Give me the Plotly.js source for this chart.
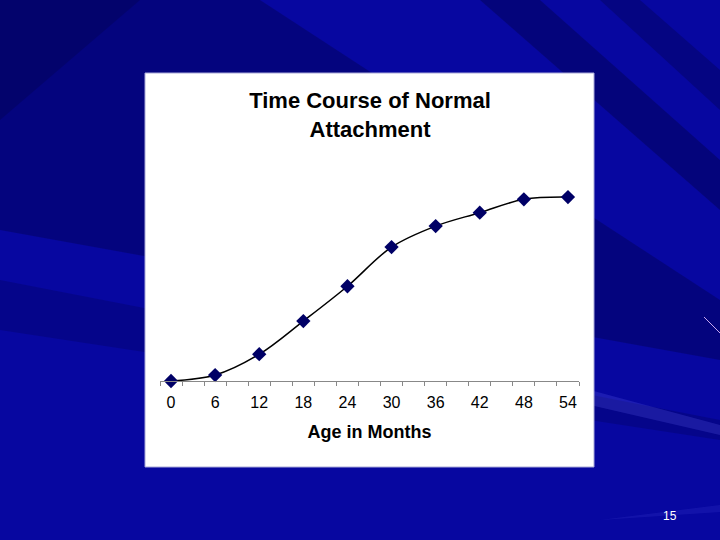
<!DOCTYPE html>
<html>
<head>
<meta charset="utf-8">
<script src="https://cdn.plot.ly/plotly-3.0.1.min.js"></script>
<style>html,body{margin:0;padding:0;background:#0707a0;}#chart{width:720px;height:540px;}</style>
</head>
<body>
<div id="chart"></div>
<script>
// Data
const ageMonths = [0, 6, 12, 18, 24, 30, 36, 42, 48, 54];
const attachment = [0, 2.9, 13.0, 29.1, 46.0, 65.0, 75.2, 81.7, 88.2, 89.3];
const tickLabels = ['0', '6', '12', '18', '24', '30', '36', '42', '48', '54'];
const slideNumber = '15';

const trace = {
  x: ageMonths,
  y: attachment,
  type: 'scatter',
  mode: 'lines+markers',
  line: {shape: 'spline', smoothing: 1, color: '#000000', width: 1.5},
  marker: {symbol: 'diamond', size: 11, color: '#000066', line: {width: 0}},
  cliponaxis: false,
  hoverinfo: 'x+y'
};

// decorative background rays (pixel space)
const rays = [
  {path: 'M 0 0 L 260 0 L 720 300 L 720 360 L 0 230 Z', color: 'rgba(0,0,50,0.3)'},
  {path: 'M 0 0 L 140 0 L 0 120 Z', color: 'rgba(0,0,40,0.2)'},
  {path: 'M 480 0 L 540 0 L 720 160 L 720 210 Z', color: 'rgba(0,0,40,0.3)'},
  {path: 'M 600 0 L 640 0 L 720 70 L 720 110 Z', color: 'rgba(0,0,40,0.25)'},
  {path: 'M 0 280 L 0 330 L 720 440 L 720 420 Z', color: 'rgba(0,0,50,0.2)'},
  {path: 'M 590 390 L 590 405 L 720 435 L 720 425 Z', color: 'rgba(90,90,230,0.25)'},
  {path: 'M 600 520 L 720 505 L 720 512 Z', color: 'rgba(90,90,230,0.15)'}
];

const layout = {
  width: 720,
  height: 540,
  paper_bgcolor: '#0707a0',
  plot_bgcolor: 'rgba(0,0,0,0)',
  margin: {l: 160, r: 141, t: 175, b: 159},
  showlegend: false,
  font: {family: 'Arial, Liberation Sans, sans-serif', color: '#000000'},
  title: {
    text: '<b>Time Course of Normal<br>Attachment</b>',
    font: {size: 22, color: '#000000'},
    x: 0.5139, xanchor: 'center',
    y: 0.80, yanchor: 'top'
  },
  xaxis: {
    range: [-1.5, 55.5],
    tickmode: 'array',
    tickvals: ageMonths,
    ticktext: tickLabels,
    ticks: '',
    ticklabelstandoff: 7,
    tickfont: {size: 16, color: '#000000'},
    showline: true, linecolor: '#888888', linewidth: 1,
    showgrid: false, zeroline: false,
    minor: {tick0: -1.5, dtick: 3, ticks: 'outside', ticklen: 4, tickcolor: '#888888', tickwidth: 1, showgrid: false},
    title: {text: '<b>Age in Months</b>', font: {size: 18, color: '#000000'}, standoff: 15},
    fixedrange: true
  },
  yaxis: {
    range: [0, 100],
    visible: false,
    showgrid: false, zeroline: false,
    fixedrange: true
  },
  shapes: [],
  annotations: [
    {text: slideNumber, xref: 'paper', yref: 'paper', x: (670 - 160) / 419, y: (381 - 516) / 206,
     xanchor: 'center', yanchor: 'middle', showarrow: false,
     font: {size: 12, color: '#ffffff', family: 'Arial, Liberation Sans, sans-serif'}}
  ]
};

// convert pixel-space paths to paper coords
const W = 419, H = 206, L = 160, T = 175;
function px2paper(x, y) { return [(x - L) / W, (T + H - y) / H]; }
function convPath(p) {
  const parts = p.split(' ');
  let out = [];
  for (let i = 0; i < parts.length; i++) {
    if (parts[i] === 'M' || parts[i] === 'L' || parts[i] === 'Z') { out.push(parts[i]); }
    else {
      const x = parseFloat(parts[i]), y = parseFloat(parts[i + 1]);
      const c = px2paper(x, y);
      out.push(c[0].toFixed(4) + ',' + c[1].toFixed(4));
      i++;
    }
  }
  return out.join(' ');
}
rays.forEach(r => {
  layout.shapes.push({type: 'path', xref: 'paper', yref: 'paper', path: convPath(r.path),
    fillcolor: r.color, line: {width: 0}, layer: 'below'});
});
// small lavender streak at right
const s0 = px2paper(704, 317), s1 = px2paper(720, 333);
layout.shapes.push({type: 'line', xref: 'paper', yref: 'paper', x0: s0[0], y0: s0[1], x1: s1[0], y1: s1[1],
  line: {color: '#c8a8f0', width: 1}, layer: 'below'});
// white chart box
const b0 = px2paper(145, 73), b1 = px2paper(594, 467);
layout.shapes.push({type: 'rect', xref: 'paper', yref: 'paper', x0: b0[0], y0: b1[1], x1: b1[0], y1: b0[1],
  fillcolor: '#ffffff', line: {color: '#a8a8d8', width: 1}, layer: 'below'});

Plotly.newPlot('chart', [trace], layout, {displayModeBar: false, staticPlot: true});
</script>
</body>
</html>
